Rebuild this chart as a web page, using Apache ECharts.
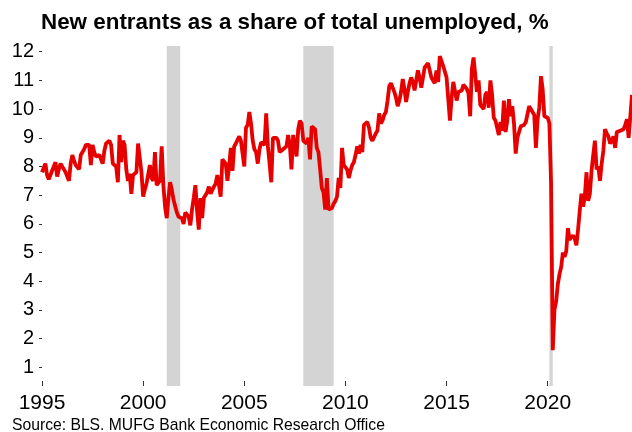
<!DOCTYPE html>
<html>

<head>
    <meta charset="utf-8">
    <title>New entrants</title>
    <script src="https://cdn.jsdelivr.net/npm/echarts@6/dist/echarts.min.js"></script>
    <style>
        html, body { margin: 0; padding: 0; background: #fff; }
    </style>
</head>

<body>
<div id="main" style="width: 632px;height:432px;"></div>
<script>
    // monthly, Jan 1995 - Mar 2024 (one row per year)
    var startYear = 1995;
    var values = [
        7.8, 7.95, 8.1, 7.7, 7.55, 7.6, 7.85, 8.0, 8.15, 7.65, 7.9, 8.1,
        8.1, 7.9, 7.8, 7.65, 7.5, 8.1, 8.4, 8.2, 8.05, 8.0, 7.9, 8.4,
        8.35, 8.6, 8.75, 8.8, 8.75, 8.05, 8.75, 8.5, 8.35, 8.4, 8.4, 8.35,
        8.1, 8.55, 8.8, 8.85, 8.9, 8.75, 8.1, 8.05, 8.0, 7.45, 9.1, 8.15,
        8.9, 8.75, 7.9, 7.5, 7.75, 7.05, 7.7, 7.75, 7.8, 8.8, 8.3, 7.8,
        6.95, 7.2, 7.4, 7.45, 8.05, 7.6, 7.5, 8.5, 7.35, 7.3, 7.5, 8.7,
        7.35, 6.6, 6.2, 6.9, 7.45, 7.2, 6.85, 6.8, 6.4, 6.25, 6.2, 6.2,
        6.0, 6.4, 6.45, 6.25, 5.95, 6.5, 6.9, 7.35, 6.45, 5.8, 6.9, 6.2,
        6.9, 6.85, 7.1, 7.3, 7.05, 7.1, 7.3, 7.4, 7.7, 7.35, 6.95, 8.25,
        8.2, 8.1, 7.5, 8.0, 8.65, 7.85, 8.7, 8.8, 8.85, 9.05, 8.9, 8.85,
        8.0, 9.35, 9.45, 9.9, 9.5, 8.9, 8.6, 8.5, 8.1, 8.6, 8.85, 8.8,
        8.75, 9.85, 8.7, 8.1, 7.45, 9.0, 9.05, 9.0, 8.9, 8.5, 8.55, 8.6,
        8.65, 8.7, 9.1, 8.75, 7.9, 9.1, 8.75, 8.35, 9.3, 9.6, 9.5, 8.9,
        8.85, 8.8, 9.0, 8.25, 9.4, 9.45, 9.3, 8.65, 8.5, 7.9, 7.25, 7.1,
        6.5, 7.6, 6.5, 6.5, 6.55, 6.7, 6.8, 6.95, 7.6, 7.25, 8.65, 8.05,
        8.0, 7.9, 7.6, 7.85, 8.05, 8.15, 8.4, 8.7, 8.45, 8.75, 8.5, 9.45,
        9.5, 9.55, 9.35, 9.0, 8.9, 8.95, 9.15, 9.25, 9.85, 9.5, 9.6, 9.8,
        9.9, 10.3, 10.8, 10.9, 10.85, 10.6, 10.4, 10.1, 10.3, 10.6, 11.05, 10.7,
        10.25, 10.6, 10.9, 11.1, 10.95, 10.65, 11.0, 11.35, 11.1, 10.75, 10.7, 11.45,
        11.5, 11.6, 11.35, 11.1, 11.0, 10.9, 11.35, 10.95, 11.85, 11.9, 11.5, 11.3,
        11.1, 10.35, 9.6, 10.4, 10.95, 11.0, 10.3, 10.6, 10.55, 10.65, 10.85, 10.8,
        10.7, 10.55, 9.75, 11.4, 11.8, 11.8, 10.6, 11.0, 10.15, 10.1, 10.0, 10.5,
        10.6, 10.05, 11.0, 10.5, 9.7, 9.6, 9.55, 9.1, 9.55, 9.25, 10.3, 9.2,
        9.6, 10.35, 9.75, 10.1, 9.5, 8.45, 9.0, 9.2, 9.4, 9.4, 9.45, 9.55,
        9.6, 10.1, 10.05, 9.9, 9.8, 8.65, 9.65, 10.05, 11.15, 10.7, 9.75, 9.8,
        9.7, 9.5, 7.4, 1.6, 3.0, 3.3, 3.9, 4.25, 4.5, 5.0, 4.85, 5.05,
        5.85, 5.45, 5.5, 5.6, 5.5, 5.25, 5.8, 6.45, 7.05, 6.6, 6.95, 7.8,
        6.8, 7.05, 7.85, 8.4, 8.9, 7.9, 8.0, 7.5, 8.1, 8.55, 9.3, 9.15,
        9.05, 8.8, 8.9, 9.05, 8.65, 9.2, 9.15, 9.25, 9.3, 9.3, 9.45, 9.65,
        9.0, 9.75, 10.5
    ];

    // recessions: [start year, start month, end year, end month]
    var recessions = [
        [2001, 3, 2001, 11],
        [2007, 12, 2009, 6],
        [2020, 2, 2020, 4]
    ];

    var yTicks = [1, 2, 3, 4, 5, 6, 7, 8, 9, 10, 11, 12];
    var xTicks = [1995, 2000, 2005, 2010, 2015, 2020];

    var points = [];
    for (var i = 0; i < values.length; i++) {
        points.push([startYear + i / 12, values[i]]);
    }

    var areas = [];
    for (var j = 0; j < recessions.length; j++) {
        var r = recessions[j];
        areas.push([
            { xAxis: r[0] + (r[1] - 1) / 12 },
            { xAxis: r[2] + (r[3] - 1) / 12 }
        ]);
    }

    var myChart = echarts.init(document.getElementById('main'));

    var option = {
        animation: false,
        textStyle: { fontFamily: 'Liberation Sans' },
        title: {
            text: 'New entrants as a share of total unemployed, %',
            left: 36,
            top: 7,
            textStyle: {
                fontFamily: 'Liberation Sans',
                fontWeight: 'bold',
                fontSize: 22.4,
                color: '#000'
            }
        },
        graphic: [{
            type: 'text',
            left: 12,
            top: 418,
            style: {
                text: 'Source: BLS. MUFG Bank Economic Research Office',
                font: '15.7px "Liberation Sans"',
                fill: '#000'
            }
        }],
        grid: {
            left: 42,
            right: 0,
            top: 46,
            bottom: 46
        },
        xAxis: {
            type: 'value',
            min: startYear,
            max: startYear + (values.length - 1) / 12,
            axisLine: { show: false },
            splitLine: { show: false },
            axisTick: {
                show: true,
                inside: true,
                length: 5,
                customValues: xTicks,
                lineStyle: { color: '#333' }
            },
            axisLabel: {
                customValues: xTicks,
                formatter: function (v) { return String(v); },
                fontSize: 21,
                color: '#000',
                margin: 7
            }
        },
        yAxis: {
            type: 'value',
            min: 0.35,
            max: 12.2,
            axisLine: { show: false },
            splitLine: { show: false },
            axisTick: {
                show: true,
                length: 3,
                customValues: yTicks,
                lineStyle: { color: '#333' }
            },
            axisLabel: {
                customValues: yTicks,
                fontSize: 20,
                color: '#000',
                margin: 8
            }
        },
        series: [
            {
                type: 'line',
                data: [],
                z: 1,
                silent: true,
                markArea: {
                    silent: true,
                    itemStyle: { color: '#d4d4d4' },
                    data: areas
                }
            },
            {
                type: 'line',
                data: points,
                z: 3,
                showSymbol: false,
                lineStyle: { color: '#e60000', width: 3.8 }
            }
        ]
    };

    myChart.setOption(option);
</script>
</body>

</html>
